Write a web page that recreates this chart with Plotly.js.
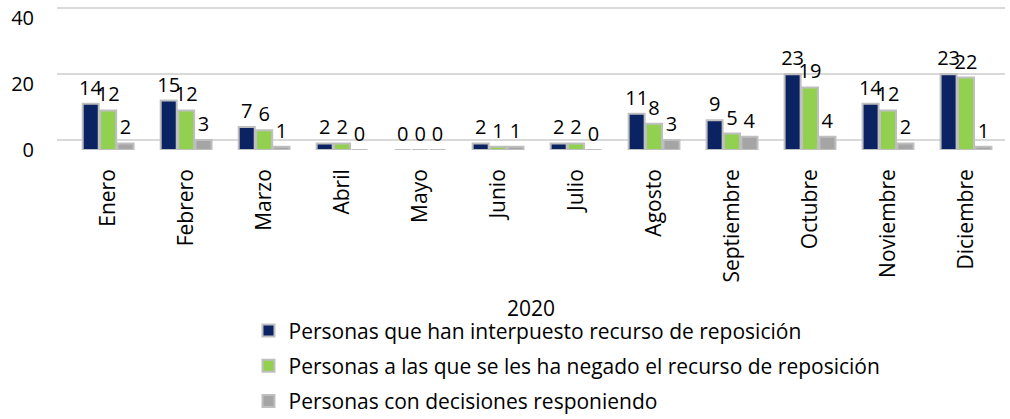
<!DOCTYPE html>
<html><head><meta charset="utf-8">
<script src="https://cdn.plot.ly/plotly-3.0.1.min.js"></script>
<style>body{margin:0;background:#fff}#chart{width:1010px;height:419px}</style>
</head><body><div id="chart"></div>
<script>
const months = ["Enero","Febrero","Marzo","Abril","Mayo","Junio","Julio","Agosto","Septiembre","Octubre","Noviembre","Diciembre"];
const interpuesto = [14,15,7,2,0,2,2,11,9,23,14,23];
const negado = [12,12,6,2,0,1,2,8,5,19,12,22];
const respondiendo = [2,3,1,0,0,1,0,3,4,4,2,1];
const yTicks = [0,20,40];
const names = ["Personas que han interpuesto recurso de reposición","Personas a las que se les ha negado el recurso de reposición","Personas con decisiones responiendo"];
const colors = ["#0B2362","#92D050","#A5A5A5"];
const series = [interpuesto, negado, respondiendo];
const font = "'Open Sans', sans-serif";
const traces = series.map((v,i)=>({
  type:"bar", x:months, y:v, name:names[i], legendgroup:"g"+i,
  marker:{color:colors[i], line:{color:"#BFBFBF", width:2}},
  text:v.map(String), textposition:"outside", cliponaxis:false, constraintext:"none",
  textfont:{size:20,color:"#000",family:font}
}));
// invisible helper trace for the back-wall gridlines (shifted axis)
traces.push({type:"scatter", x:[months[0]], y:[0], yaxis:"y2", mode:"markers",
  marker:{opacity:0}, showlegend:false, hoverinfo:"skip"});
const layout = {
  width:1010, height:419,
  margin:{l:57, r:5, t:5, b:269, autoexpand:false},
  paper_bgcolor:"#fff", plot_bgcolor:"rgba(0,0,0,0)",
  font:{family:font, size:20, color:"#000"},
  barmode:"group", bargap:0.33, bargroupgap:0.08,
  showlegend:true,
  legend:{orientation:"v", x:0.202, xanchor:"left", y:-1.105, yanchor:"top", bgcolor:"rgba(0,0,0,0)",
    font:{size:21,color:"#000"}, tracegroupgap:5, itemwidth:30},
  xaxis:{tickangle:-90, showgrid:false, zeroline:false, showline:false, ticks:"",
    automargin:false, ticklabelstandoff:14,
    tickfont:{size:21}, title:{text:"2020", font:{size:21}, standoff:19}},
  yaxis:{range:[0,44], tickvals:yTicks, ticktext:yTicks.map(String), showgrid:false, automargin:false,
    zeroline:false, ticks:"", ticklabelstandoff:22, tickfont:{size:20}, showline:false},
  yaxis2:{range:[-3,41], overlaying:"y", side:"left", tickvals:yTicks, showticklabels:false, automargin:false,
    showgrid:true, gridcolor:"#D9D9D9", gridwidth:2, zeroline:false, showline:false, ticks:"",
    layer:"below traces"}
};
Plotly.newPlot("chart", traces, layout, {displayModeBar:false, staticPlot:true});
</script></body></html>
